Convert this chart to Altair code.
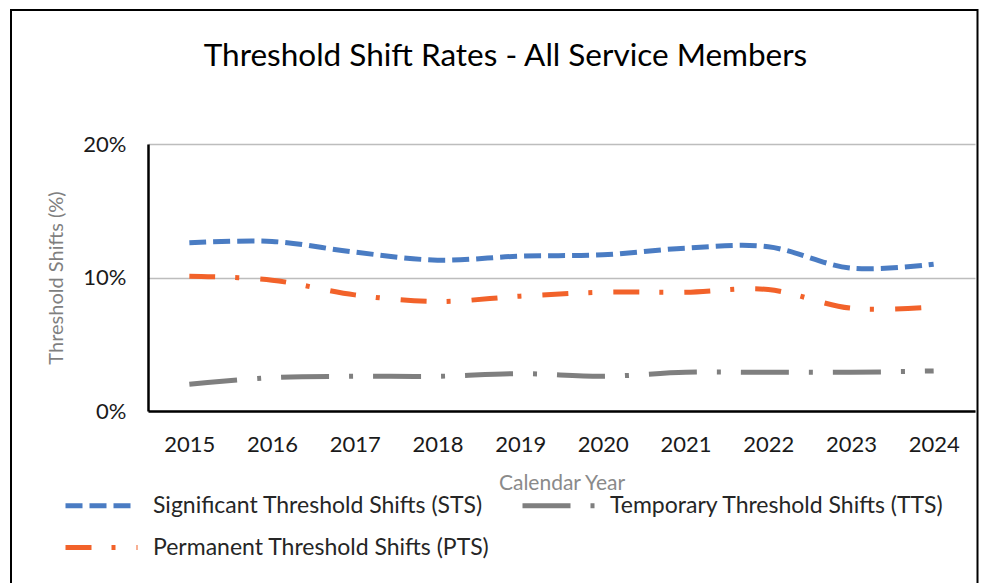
import altair as alt
import pandas as pd

years = ["2015", "2016", "2017", "2018", "2019", "2020", "2021", "2022", "2023", "2024"]
sts = [12.6, 12.7, 11.9, 11.3, 11.6, 11.7, 12.2, 12.3, 10.7, 11.0]
pts = [10.1, 9.8, 8.7, 8.2, 8.6, 8.9, 8.9, 9.1, 7.7, 7.8]
tts = [2.0, 2.5, 2.6, 2.6, 2.8, 2.6, 2.9, 2.9, 2.9, 3.0]

series_names = [
    "Significant Threshold Shifts (STS)",
    "Temporary Threshold Shifts (TTS)",
    "Permanent Threshold Shifts (PTS)",
]
series_colors = ["#4A7CC3", "#7F7F7F", "#F2622A"]
series_dash = [[17, 7], [48, 20, 4, 20], [26, 20, 4, 21]]

rows = []
for name, vals in zip(series_names, [sts, tts, pts]):
    for y, v in zip(years, vals):
        rows.append({"year": y, "value": v, "series": name})
df = pd.DataFrame(rows)

FONT = "Lato"

legend_opts = dict(title=None, orient="none", legendX=-67, legendY=341,
                   columns=2, direction="horizontal",
                   symbolType="M-2,0H2", symbolSize=1296,
                   symbolStrokeWidth=5, labelFontSize=23,
                   labelColor="#262626", labelOffset=31,
                   columnPadding=22, rowPadding=9, padding=0,
                   labelLimit=600)

lines = alt.Chart(df).mark_line(strokeWidth=5, interpolate="cardinal").encode(
    x=alt.X("year:O", sort=years,
            axis=alt.Axis(title="Calendar Year", labelAngle=0, ticks=False,
                          labelPadding=23, titlePadding=17,
                          labelFontSize=22, labelColor="#1a1a1a",
                          titleFontSize=21, titleColor="#8a8a8a", titleFontWeight="normal",
                          domainColor="#000000", domainWidth=2.5, grid=False)),
    y=alt.Y("value:Q", scale=alt.Scale(domain=[0, 20], nice=False),
            axis=alt.Axis(title="Threshold Shifts (%)", values=[0, 10, 20],
                          labelExpr="datum.value + '%'", ticks=False,
                          labelPadding=22, titlePadding=16,
                          labelFontSize=22, labelColor="#1a1a1a",
                          titleFontSize=20, titleColor="#7f7f7f", titleFontWeight="normal",
                          domainColor="#000000", domainWidth=2.5,
                          grid=True, gridColor="#BDBDBD", gridWidth=1.5)),
    color=alt.Color("series:N", sort=series_names,
                    scale=alt.Scale(domain=series_names, range=series_colors),
                    legend=alt.Legend(**legend_opts)),
    strokeDash=alt.StrokeDash("series:N", sort=series_names,
                              scale=alt.Scale(domain=series_names, range=series_dash),
                              legend=alt.Legend(**legend_opts)),
)

frame = alt.Chart(alt.Data(values=[{}])).mark_rect(
    fill=None, stroke="#000000", strokeWidth=2
).encode(
    x=alt.value(-137), x2=alt.value(829.5),
    y=alt.value(-134), y2=alt.value(470),
)

chart = alt.layer(frame, lines).properties(
    width=827, height=267,
    title=alt.TitleParams("Threshold Shift Rates - All Service Members",
                          fontSize=31.5, font=FONT, fontWeight="normal",
                          color="#000000", anchor="middle", dx=-56, offset=-63),
    autosize=alt.AutoSizeParams(type="none"),
    padding={"left": 140, "top": 136, "right": 4, "bottom": 172},
).configure(font=FONT).configure_view(stroke=None)

chart.save("out.html", embed_options={"renderer": "svg", "actions": False})
